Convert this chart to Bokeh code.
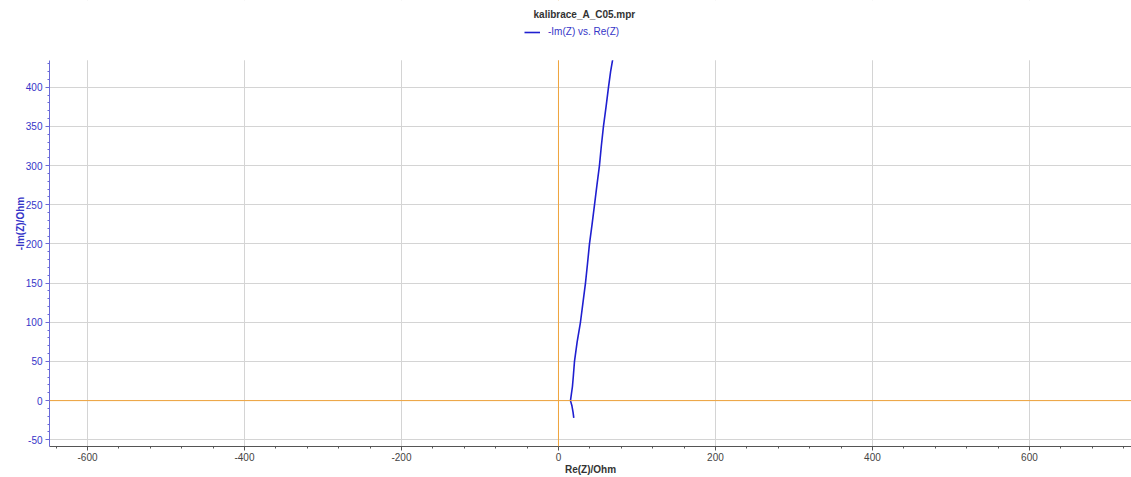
from bokeh.plotting import figure
from bokeh.models import Legend, LegendItem, Span, FixedTicker, Range1d, BoxAnnotation, Label
from bokeh.embed import file_html
from bokeh.resources import INLINE

# Data: Nyquist plot, Re(Z) vs -Im(Z) in Ohm
re_z = [19.5, 18.6, 17.2, 15.3, 16.4, 17.8, 19.0, 20.4, 23.8, 28.0, 31.2, 34.4,
        37.0, 39.5, 42.8, 45.9, 49.0, 52.2, 54.6, 57.3, 60.6, 63.7, 66.4, 68.8, 73.0]
im_z = [-22, -15, -7, 0, 8, 18, 32, 50, 75, 100, 125, 150,
        175, 200, 225, 250, 275, 300, 325, 350, 375, 400, 420, 434, 470]

x_major = [-600, -400, -200, 0, 200, 400, 600]
x_tick_labels = ["-600", "-400", "-200", "0", "200", "400", "600"]
x_minor = list(range(-640, 721, 40))
y_major = [-50, 0, 50, 100, 150, 200, 250, 300, 350, 400]
y_tick_labels = ["-50", "0", "50", "100", "150", "200", "250", "300", "350", "400"]
y_minor = list(range(-50, 435, 10))

title_text = "kalibrace_A_C05.mpr"
series_name = "-Im(Z) vs. Re(Z)"
x_label = "Re(Z)/Ohm"
y_label = "-Im(Z)/Ohm"

# visible data window (the header strip above it holds title and legend)
Y_TOP = 434.4
Y_BOTTOM = -58.6

FONT = "Liberation Sans"
BLUE = "#3535c8"

p = figure(width=1131, height=477, output_backend="svg", toolbar_location=None,
           title=None, x_range=Range1d(-648.4, 730.0), y_range=Range1d(Y_BOTTOM, 510.8),
           min_border_left=49, min_border_right=0, min_border_top=0, min_border_bottom=30)
p.outline_line_color = None
p.background_fill_color = "white"

r = p.line(re_z, im_z, line_color="#1f1fd0", line_width=1.6)

# zero lines
p.add_layout(Span(location=0, dimension="height", line_color="#f0a43c", line_width=1))
p.add_layout(Span(location=0, dimension="width", line_color="#f0a43c", line_width=1))

# grids
p.xgrid.ticker = FixedTicker(ticks=x_major)
p.ygrid.ticker = FixedTicker(ticks=y_major)
p.grid.grid_line_color = "#d4d4d4"
p.grid.grid_line_width = 1

# header strip mask
p.add_layout(BoxAnnotation(bottom=Y_TOP, fill_color="white", fill_alpha=1.0,
                           line_color=None))

# x axis
xa = p.xaxis[0]
xa.ticker = FixedTicker(ticks=x_major, minor_ticks=x_minor)
xa.major_label_overrides = dict(zip(x_major, x_tick_labels))
xa.axis_label = x_label
xa.axis_label_text_font = FONT
xa.axis_label_text_font_size = "10px"
xa.axis_label_text_font_style = "bold"
xa.axis_label_text_color = "#333333"
xa.axis_label_standoff = 0
xa.major_label_text_font = FONT
xa.major_label_text_font_size = "10px"
xa.major_label_text_color = "#444444"
xa.major_label_standoff = 2
xa.axis_line_color = "#555555"
xa.major_tick_line_color = "#555555"
xa.minor_tick_line_color = "#555555"
xa.major_tick_out = 4
xa.major_tick_in = 0
xa.minor_tick_out = 2
xa.minor_tick_in = 0

# y axis
ya = p.yaxis[0]
ya.bounds = (Y_BOTTOM, Y_TOP)
ya.ticker = FixedTicker(ticks=y_major, minor_ticks=y_minor)
ya.major_label_overrides = dict(zip(y_major, y_tick_labels))
ya.axis_label = y_label
ya.axis_label_text_font = FONT
ya.axis_label_text_font_size = "10px"
ya.axis_label_text_font_style = "bold"
ya.axis_label_text_color = BLUE
ya.axis_label_standoff = -3
ya.major_label_text_font = FONT
ya.major_label_text_font_size = "10px"
ya.major_label_text_color = BLUE
ya.major_label_standoff = 3
ya.axis_line_color = "#6a6ad8"
ya.major_tick_line_color = "#6a6ad8"
ya.minor_tick_line_color = "#6a6ad8"
ya.major_tick_out = 4
ya.major_tick_in = 0
ya.minor_tick_out = 2
ya.minor_tick_in = 0

legend = Legend(items=[LegendItem(label=series_name, renderers=[r])],
                orientation="horizontal", location=(475, 409),
                border_line_color=None, background_fill_alpha=0,
                label_text_font=FONT, label_text_font_size="10px",
                label_text_color=BLUE, glyph_width=16, glyph_height=10,
                label_height=10, padding=2, margin=0, label_standoff=8)
p.add_layout(legend, "center")

p.add_layout(Label(x=33, y=493, text=title_text, text_align="center",
                   text_baseline="middle", text_font=FONT, text_font_size="10px",
                   text_font_style="bold", text_color="#333333"))

open("out.html", "w").write(file_html(p, INLINE))
